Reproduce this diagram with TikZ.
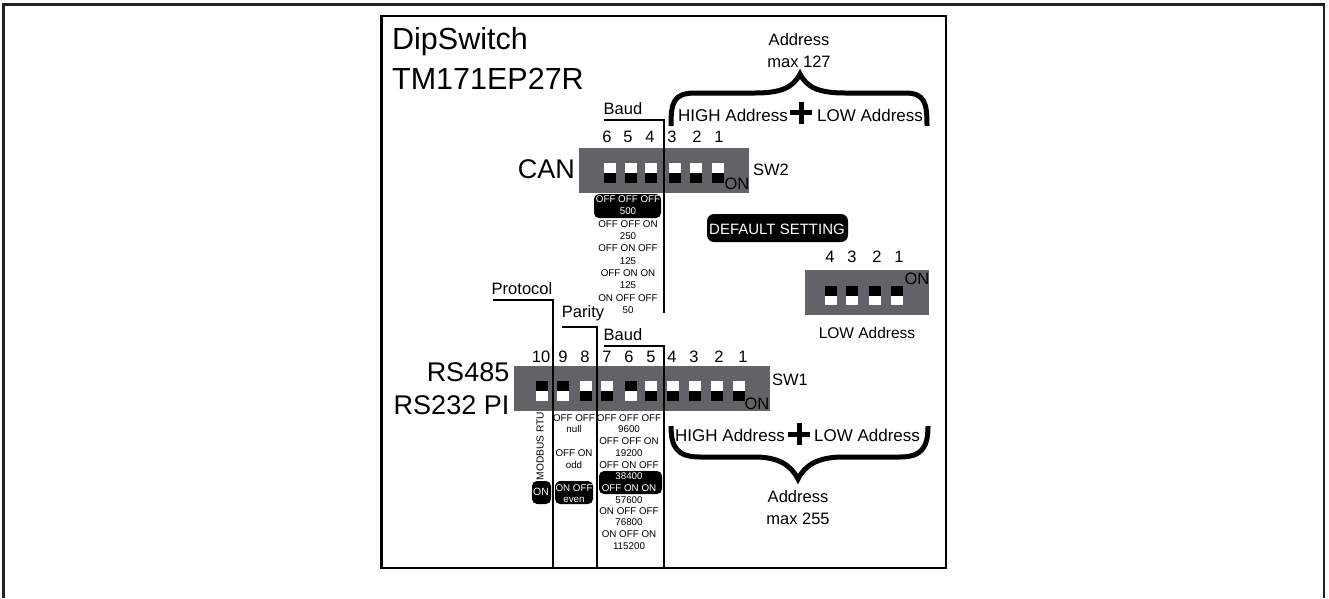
\documentclass[tikz,border=0pt]{standalone}
\usepackage{fontspec}
\setmainfont{Liberation Sans}
\usepackage{xcolor}
\definecolor{dipgray}{HTML}{626366}
\definecolor{framegray}{HTML}{231F20}
\newcommand{\px}[1]{\fontsize{#1}{#1}\selectfont}
\tikzset{
    lbl/.style={inner sep=0pt,font=\px{16.5}},
    tiny/.style={inner sep=0pt,font=\px{9.8}},
    tinyw/.style={inner sep=0pt,font=\px{9.8},text=white},
    big/.style={inner sep=0pt,font=\px{27}},
    leader/.style={draw=black,line width=1.7pt},
    brace/.style={draw=black,line width=5pt},
    tag/.style={fill=black,rounded corners=5pt},
    dipbody/.style={fill=dipgray},
    dipup/.style={fill=white},
    dipdown/.style={fill=black},
}

\begin{document}
\begin{tikzpicture}[x=1pt,y=-1pt]
    \useasboundingbox (0,0) rectangle (1329,598);
    \draw[line width=2.8pt,framegray] (3.5,598) |- (1324,4.5) -- (1324,598);
    \draw[line width=2.5pt] (381.3,16.2) rectangle (946,568);

    % title
    \node[big,font=\px{30.5},anchor=west] (title1) at (392,42) {DipSwitch};
    \node[big,font=\px{30.5},anchor=west] (title2) at (392,79) {TM171EP27R};

    % SW2
    \fill[dipbody] (579,148) rectangle (749,193);
    \foreach \x in {610,631,651,675,696,718} {
        \fill[dipup] (\x-6,163) rectangle (\x+6,173);
        \fill[dipdown] (\x-6,173) rectangle (\x+6,183);
    }
    \foreach \x/\t in {607/6,628/5,650/4,672/3,697/2,719/1}
        \node[lbl] (cann\t) at (\x,137) {\t};
    \node[big,anchor=east] (can) at (575,169) {CAN};
    \node[lbl] (sw2) at (771,170) {SW2};
    \node[lbl] (canon) at (737,184) {ON};
    \node[lbl] (canbaud) at (623,109) {Baud};

    % SW2 baud table
    \fill[tag] (594,194) rectangle (661,218);
    \node[tinyw] (can1) at (628,199) {OFF OFF OFF};
    \node[tinyw] (can2) at (628,211) {500};
    \foreach \y/\t [count=\i from 3] in {224/OFF OFF ON,236/250,248/OFF ON OFF,261/125,273/OFF ON ON,285/125,298/ON OFF OFF,310/50}
        \node[tiny] (can\i) at (628,\y) {\t};

    % DEFAULT
    \fill[tag,rounded corners=7pt] (707,214) rectangle (848,242);
    \node[inner sep=0pt,font=\px{15},text=white] (deflt) at (777,229) {DEFAULT SETTING};

    % low address
    \fill[dipbody] (805,270) rectangle (929,315);
    \foreach \x in {831,852,875,897} {
        \fill[dipdown] (\x-6,286) rectangle (\x+6,296);
        \fill[dipup] (\x-6,296) rectangle (\x+6,305);
    }
    \foreach \x/\t in {830/4,852/3,877/2,899/1}
        \node[lbl] (lown\t) at (\x,257) {\t};
    \node[lbl] (lowon) at (917,279) {ON};
    \node[lbl,font=\px{15.5}] (lowaddr) at (867,333) {LOW Address};

    % SW1
    \fill[dipbody] (514,366) rectangle (770,411);
    \foreach \x in {542,563,631} {
        \fill[dipdown] (\x-6,381) rectangle (\x+6,391);
        \fill[dipup] (\x-6,391) rectangle (\x+6,401);
    }
    \foreach \x in {586,607,651,673,695,717,739} {
        \fill[dipup] (\x-6,381) rectangle (\x+6,391);
        \fill[dipdown] (\x-6,391) rectangle (\x+6,401);
    }
    \foreach \x/\t in {541/10,563/9,585/8,607/7,629/6,651/5,672/4,694/3,719/2,743/1}
        \node[lbl] (rsn\t) at (\x,357) {\t};
    \node[big,anchor=east] (rs1) at (509.5,372) {RS485};
    \node[big,anchor=east] (rs2) at (509.5,405) {RS232 PI};
    \node[lbl] (sw1) at (790,380) {SW1};
    \node[lbl] (rson) at (757,404) {ON};
    \node[lbl] (protocol) at (522,289) {Protocol};
    \node[lbl] (parity) at (583,313) {Parity};
    \node[lbl] (rsbaud) at (623,335) {Baud};

    % protocol + parity + baud tables
    \node[tiny,font=\px{10.2},rotate=90] (modbus) at (540,446) {MODBUS RTU};
    \fill[tag] (532,481) rectangle (551,504);
    \node[inner sep=0pt,font=\px{10.5},text=white] (proton) at (541,492) {ON};
    \fill[tag] (555,481) rectangle (593,504);
    \foreach \y/\t [count=\i] in {418/OFF OFF,429/null,453/OFF ON,465/odd}
        \node[tiny] (par\i) at (574,\y) {\t};
    \node[tinyw] (par5) at (574,488) {ON OFF};
    \node[tinyw] (par6) at (574,500) {even};
    \fill[tag] (599,471) rectangle (662,494);
    \foreach \y/\t [count=\i] in {418/OFF OFF OFF,429/9600,441/OFF OFF ON,453/19200,465/OFF ON OFF}
        \node[tiny] (bd\i) at (629,\y) {\t};
    \node[tinyw] (bd6) at (629,476) {38400};
    \node[tinyw] (bd7) at (629,488) {OFF ON ON};
    \foreach \y/\t [count=\i from 8] in {500/57600,511/ON OFF OFF,522/76800,534/ON OFF ON,546/115200}
        \node[tiny] (bd\i) at (629,\y) {\t};

    % leaders
    \coordinate (c1a) at (604,120);
    \coordinate (c1b) at (664,313);
    \coordinate (p1a) at (493,300);
    \coordinate (p1b) at (553,568);
    \coordinate (p2a) at (562,327);
    \coordinate (p2b) at (597,568);
    \coordinate (p3a) at (604,346);
    \coordinate (p3b) at (664,568);
    \draw[leader] (c1a) -| (c1b);
    \draw[leader] (p1a) -| (p1b);
    \draw[leader] (p2a) -| (p2b);
    \draw[leader] (p3a) -| (p3b);

    % address top
    \node[lbl] (addr1) at (799,40) {Address};
    \node[lbl] (addr2) at (799,62) {max 127};
    \node[lbl,font=\px{17}] (high1) at (733,115) {HIGH Address};
    \node[lbl,font=\px{17}] (low1) at (870,115) {LOW Address};
    \fill (790,110) rectangle (812,115);
    \fill (798.5,102) rectangle (803.5,124);
    \draw[brace] (671,126) .. controls (671,103) and (673,93) .. (695,93)
        -- (755,93) .. controls (780,93) and (793,88) .. (800,74)
        .. controls (807,88) and (820,93) .. (845,93) -- (905,93)
        .. controls (925,93) and (927,103) .. (927,126);

    % address bottom
    \node[lbl,font=\px{17}] (high2) at (730,435) {HIGH Address};
    \node[lbl,font=\px{17}] (low2) at (867,435) {LOW Address};
    \fill (788,431.5) rectangle (810,436.5);
    \fill (796.5,423) rectangle (801.5,445);
    \draw[brace] (671,426) .. controls (671,447) and (677,457) .. (700,457)
        -- (755,457) .. controls (778,457) and (791,465) .. (798,479)
        .. controls (805,465) and (818,457) .. (843,457) -- (900,457)
        .. controls (922,457) and (928,447) .. (928,426);
    \node[lbl] (addr3) at (798,497) {Address};
    \node[lbl] (addr4) at (798,519) {max 255};
\end{tikzpicture}
\end{document}
